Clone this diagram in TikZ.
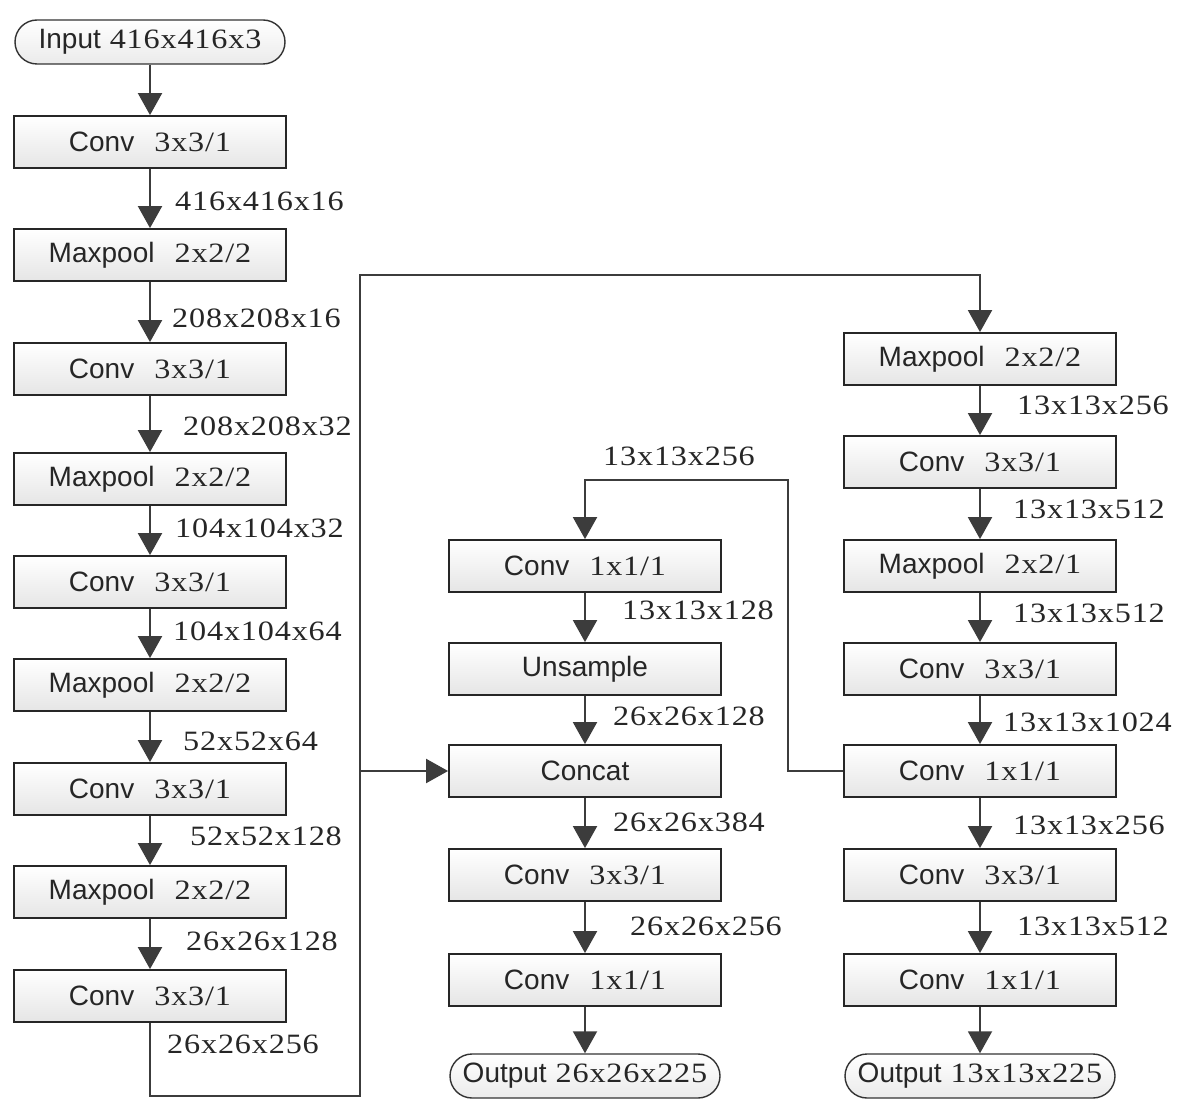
\documentclass[tikz,border=0pt]{standalone}
\usepackage{fontspec}
\setmainfont[FakeStretch=1.15,LetterSpace=3]{Liberation Serif}
\setsansfont{Liberation Sans}
\usetikzlibrary{arrows.meta}
\definecolor{ink}{HTML}{3C3C3C}
\newcommand{\lyr}[2]{\textsf{#1}\hspace{20pt}#2}
\begin{document}
\begin{tikzpicture}[x=1pt,y=-1pt,
  txt/.style={font=\fontsize{28}{32}\selectfont, text=black!85},
  layer/.style={txt, draw=black!85, line width=1.8pt, minimum width=272pt,
    minimum height=52pt, inner sep=0pt, top color=white, bottom color=black!10},
  term/.style={txt, draw=black!80, line width=1.4pt, rounded corners=22pt,
    minimum width=270pt, minimum height=44pt, inner sep=0pt,
    top color=white, bottom color=black!8},
  dim/.style={txt, anchor=west, inner sep=0pt},
  wire/.style={draw=ink, line width=2pt},
  arr/.style={wire, -{Triangle[length=22pt,width=24pt]}}
]
\useasboundingbox (0,0) rectangle (1179,1099);

% left column
\node[term]  (in) at (150,42)  {\textsf{Input} 416x416x3};
\node[layer] (l1) at (150,142) {\lyr{Conv}{3x3/1}};
\node[layer] (l2) at (150,255) {\lyr{Maxpool}{2x2/2}};
\node[layer] (l3) at (150,369) {\lyr{Conv}{3x3/1}};
\node[layer] (l4) at (150,479) {\lyr{Maxpool}{2x2/2}};
\node[layer] (l5) at (150,582) {\lyr{Conv}{3x3/1}};
\node[layer] (l6) at (150,685) {\lyr{Maxpool}{2x2/2}};
\node[layer] (l7) at (150,789) {\lyr{Conv}{3x3/1}};
\node[layer] (l8) at (150,892) {\lyr{Maxpool}{2x2/2}};
\node[layer] (l9) at (150,996) {\lyr{Conv}{3x3/1}};

\draw[arr] (in) -- (l1);
\draw[arr] (l1) -- (l2);
\draw[arr] (l2) -- (l3);
\draw[arr] (l3) -- (l4);
\draw[arr] (l4) -- (l5);
\draw[arr] (l5) -- (l6);
\draw[arr] (l6) -- (l7);
\draw[arr] (l7) -- (l8);
\draw[arr] (l8) -- (l9);

\node[dim] (d1) at (175,201)  {416x416x16};
\node[dim] (d2) at (172,318)  {208x208x16};
\node[dim] (d3) at (183,426)  {208x208x32};
\node[dim] (d4) at (175,528)  {104x104x32};
\node[dim] (d5) at (173,631)  {104x104x64};
\node[dim] (d6) at (183,741)  {52x52x64};
\node[dim] (d7) at (190,836)  {52x52x128};
\node[dim] (d8) at (186,941)  {26x26x128};
\node[dim] (d9) at (167,1044) {26x26x256};

% right column
\node[layer] (r1) at (980,359) {\lyr{Maxpool}{2x2/2}};
\node[layer] (r2) at (980,462) {\lyr{Conv}{3x3/1}};
\node[layer] (r3) at (980,566) {\lyr{Maxpool}{2x2/1}};
\node[layer] (r4) at (980,669) {\lyr{Conv}{3x3/1}};
\node[layer] (r5) at (980,771) {\lyr{Conv}{1x1/1}};
\node[layer] (r6) at (980,875) {\lyr{Conv}{3x3/1}};
\node[layer] (r7) at (980,980) {\lyr{Conv}{1x1/1}};
\node[term]  (ro) at (980,1076) {\textsf{Output} 13x13x225};

\draw[arr] (r1) -- (r2);
\draw[arr] (r2) -- (r3);
\draw[arr] (r3) -- (r4);
\draw[arr] (r4) -- (r5);
\draw[arr] (r5) -- (r6);
\draw[arr] (r6) -- (r7);
\draw[arr] (r7) -- (ro);

\node[dim] (e1) at (1017,405) {13x13x256};
\node[dim] (e2) at (1013,509) {13x13x512};
\node[dim] (e3) at (1013,613) {13x13x512};
\node[dim] (e4) at (1003,722) {13x13x1024};
\node[dim] (e5) at (1013,825) {13x13x256};
\node[dim] (e6) at (1017,926) {13x13x512};

% middle column
\node[layer] (m1) at (585,566) {\lyr{Conv}{1x1/1}};
\node[layer] (m2) at (585,669) {\textsf{Unsample}};
\node[layer] (m3) at (585,771) {\textsf{Concat}};
\node[layer] (m4) at (585,875) {\lyr{Conv}{3x3/1}};
\node[layer] (m5) at (585,980) {\lyr{Conv}{1x1/1}};
\node[term]  (mo) at (585,1076) {\textsf{Output} 26x26x225};

\draw[arr] (m1) -- (m2);
\draw[arr] (m2) -- (m3);
\draw[arr] (m3) -- (m4);
\draw[arr] (m4) -- (m5);
\draw[arr] (m5) -- (mo);

\node[dim] (g0) at (603,456) {13x13x256};
\node[dim] (g1) at (622,610) {13x13x128};
\node[dim] (g2) at (613,716) {26x26x128};
\node[dim] (g3) at (613,822) {26x26x384};
\node[dim] (g4) at (630,926) {26x26x256};

% skip route from the left column to the right column and the concat
\coordinate (b1) at (150,1096);
\coordinate (b2) at (360,1096);
\coordinate (b3) at (360,275);
\coordinate (b4) at (r1.north |- b3);
\coordinate (b5) at (b2 |- m3.west);
\draw[arr] (l9.south) -- (b1) -- (b2) -- (b3) -- (b4) -- (r1.north);
\draw[arr] (b5) -- (m3.west);

% route from the right column back to the middle column
\coordinate (f1) at (788,771);
\coordinate (f2) at (788,480);
\coordinate (f3) at (m1.north |- f2);
\draw[arr] (r5.west) -- (f1) -- (f2) -- (f3) -- (m1.north);
\end{tikzpicture}
\end{document}
